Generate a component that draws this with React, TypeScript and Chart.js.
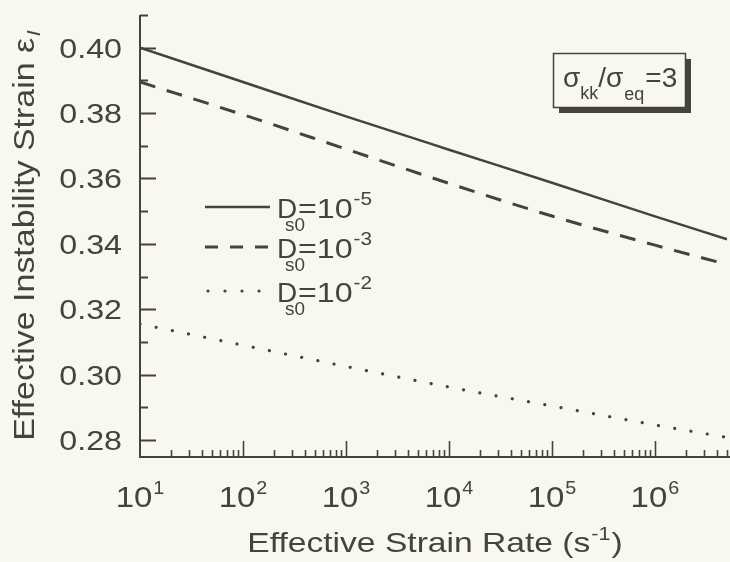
import React, { useEffect, useRef } from "react";
import { Chart, registerables } from "chart.js";

Chart.register(...registerables);

// ---- data ----
const strainRates = [10, 100, 1e3, 1e4, 1e5, 1e6, 5e6];
const strainD5 = [0.4, 0.3895, 0.379, 0.3688, 0.3587, 0.3484, 0.3414];
const strainD3 = [0.3895, 0.3795, 0.369, 0.3585, 0.3485, 0.3396, 0.3337];
const strainD2 = [0.3155, 0.309, 0.3025, 0.2962, 0.2904, 0.2846, 0.2808];
const seriesExponents = ["-5", "-3", "-2"];
const yMajorTicks = [0.28, 0.3, 0.32, 0.34, 0.36, 0.38, 0.4];
const yMinorTicks = [0.29, 0.31, 0.33, 0.35, 0.37, 0.39, 0.41];
const xDecadeExponents = [1, 2, 3, 4, 5, 6];
const xMinorMultipliers = [2, 3, 4, 5, 6, 7, 8, 9];

const X_MIN = 10;
const X_MAX = 5.35e6;
const Y_MIN = 0.2748;
const Y_MAX = 0.41;

const INK = "#44433e";
const BG = "#f9f8ee";
const FONT = '"Liberation Sans", Arial, Helvetica, sans-serif';

type Piece = { t: string; size: number; dy?: number; dx?: number; italic?: boolean };

function drawRich(
  ctx: CanvasRenderingContext2D,
  pieces: Piece[],
  x: number,
  y: number,
  sx: number,
  align: "left" | "center" | "right"
) {
  ctx.textAlign = "left";
  ctx.textBaseline = "alphabetic";
  const widths: number[] = [];
  let total = 0;
  for (const p of pieces) {
    ctx.font = `${p.italic ? "italic " : ""}${p.size}px ${FONT}`;
    const w = ctx.measureText(p.t).width * sx;
    widths.push(w);
    total += w + (p.dx || 0);
  }
  let cx = align === "left" ? x : align === "center" ? x - total / 2 : x - total;
  pieces.forEach((p, i) => {
    ctx.font = `${p.italic ? "italic " : ""}${p.size}px ${FONT}`;
    cx += p.dx || 0;
    ctx.save();
    ctx.translate(cx, y + (p.dy || 0));
    ctx.scale(sx, 1);
    ctx.fillText(p.t, 0, 0);
    ctx.restore();
    cx += widths[i];
  });
}

const decorPlugin = {
  id: "decor",
  beforeDraw(chart: any) {
    const ctx = chart.ctx as CanvasRenderingContext2D;
    ctx.save();
    ctx.fillStyle = BG;
    ctx.fillRect(0, 0, chart.width, chart.height);
    ctx.restore();
  },
  afterDraw(chart: any) {
    const ctx = chart.ctx as CanvasRenderingContext2D;
    const xs = chart.scales.x;
    const ys = chart.scales.y;
    const area = chart.chartArea;
    ctx.save();
    ctx.strokeStyle = INK;
    ctx.fillStyle = INK;

    // axes
    ctx.lineWidth = 2;
    ctx.beginPath();
    ctx.moveTo(area.left, area.top);
    ctx.lineTo(area.left, area.bottom);
    ctx.lineTo(area.right, area.bottom);
    ctx.stroke();

    // y ticks
    ctx.lineWidth = 2;
    for (const v of yMajorTicks) {
      const py = Math.round(ys.getPixelForValue(v)) + 0.5;
      ctx.beginPath();
      ctx.moveTo(area.left, py);
      ctx.lineTo(area.left + 16, py);
      ctx.stroke();
    }
    for (const v of yMinorTicks) {
      const py = Math.round(ys.getPixelForValue(v)) + 0.5;
      ctx.beginPath();
      ctx.moveTo(area.left, py);
      ctx.lineTo(area.left + 8, py);
      ctx.stroke();
    }
    // y tick labels
    for (const v of yMajorTicks) {
      const py = ys.getPixelForValue(v);
      drawRich(ctx, [{ t: v.toFixed(2), size: 28 }], 122, py + 10, 1.15, "right");
    }

    // x ticks
    ctx.lineWidth = 1.6;
    for (const e of xDecadeExponents) {
      for (const m of xMinorMultipliers) {
        const v = m * Math.pow(10, e);
        if (v > X_MAX) continue;
        const px = Math.round(xs.getPixelForValue(v)) + 0.5;
        ctx.beginPath();
        ctx.moveTo(px, area.bottom);
        ctx.lineTo(px, area.bottom - 7);
        ctx.stroke();
      }
      if (e > 1) {
        const px = Math.round(xs.getPixelForValue(Math.pow(10, e))) + 0.5;
        ctx.beginPath();
        ctx.moveTo(px, area.bottom);
        ctx.lineTo(px, area.bottom - 16);
        ctx.stroke();
      }
    }
    // x tick labels
    for (const e of xDecadeExponents) {
      const px = xs.getPixelForValue(Math.pow(10, e));
      drawRich(
        ctx,
        [
          { t: "10", size: 30 },
          { t: String(e), size: 18, dy: -13, dx: 1 },
        ],
        px,
        507,
        1.1,
        "center"
      );
    }

    // x title
    drawRich(
      ctx,
      [
        { t: "Effective Strain Rate (s", size: 28 },
        { t: "-1", size: 18, dy: -12, dx: 1 },
        { t: ")", size: 28, dx: 1 },
      ],
      (area.left + area.right) / 2,
      552,
      1.2,
      "center"
    );

    // y title
    ctx.save();
    ctx.translate(34, 236);
    ctx.rotate(-Math.PI / 2);
    drawRich(
      ctx,
      [
        { t: "Effective Instability Strain \u03b5", size: 29 },
        { t: "l", size: 18, dy: 6, dx: 2, italic: true },
      ],
      0,
      0,
      1.17,
      "center"
    );
    ctx.restore();

    // legend
    const rows = [207, 247, 291];
    const x0 = 205;
    const x1 = 270;
    rows.forEach((ry, i) => {
      ctx.beginPath();
      if (i === 0) {
        ctx.setLineDash([]);
        ctx.lineWidth = 2.5;
        ctx.lineCap = "butt";
      } else if (i === 1) {
        ctx.setLineDash([13, 12]);
        ctx.lineWidth = 3;
        ctx.lineCap = "butt";
      } else {
        ctx.setLineDash([0.01, 17]);
        ctx.lineWidth = 3.2;
        ctx.lineCap = "round";
      }
      ctx.moveTo(i === 2 ? x0 + 3 : x0, ry);
      ctx.lineTo(x1, ry);
      ctx.stroke();
      ctx.setLineDash([]);
      ctx.lineCap = "butt";
      const tx = 277;
      drawRich(ctx, [{ t: "D", size: 28 }], tx, ry + 11, 1.0, "left");
      drawRich(ctx, [{ t: "s0", size: 18 }], tx + 8, ry + 24, 1.05, "left");
      drawRich(
        ctx,
        [
          { t: "=10", size: 28 },
          { t: seriesExponents[i], size: 18, dy: -13, dx: 1 },
        ],
        tx + 21,
        ry + 11,
        1.15,
        "left"
      );
    });

    // annotation box with shadow
    const bx = 553, by = 53, bw = 132, bh = 54;
    ctx.fillStyle = INK;
    ctx.fillRect(bx + 6, by + 6, bw, bh);
    ctx.fillStyle = BG;
    ctx.fillRect(bx, by, bw, bh);
    ctx.lineWidth = 1.5;
    ctx.strokeStyle = INK;
    ctx.strokeRect(bx + 0.5, by + 0.5, bw, bh);
    ctx.fillStyle = INK;
    drawRich(
      ctx,
      [
        { t: "\u03c3", size: 28 },
        { t: "kk", size: 18, dy: 12 },
        { t: "/", size: 28 },
        { t: "\u03c3", size: 28 },
        { t: "eq", size: 18, dy: 13, dx: 1 },
        { t: "=3", size: 28, dx: 1 },
      ],
      563,
      87,
      1.0,
      "left"
    );

    ctx.restore();
  },
};

export default function App() {
  const canvasRef = useRef<HTMLCanvasElement | null>(null);

  useEffect(() => {
    document.body.style.margin = "0";
    const canvas = canvasRef.current;
    if (!canvas) return;
    const mk = (ys: number[]) => strainRates.map((x, i) => ({ x, y: ys[i] }));
    const chart = new Chart(canvas, {
      type: "line",
      data: {
        datasets: [
          {
            data: mk(strainD5),
            borderColor: INK,
            borderWidth: 2.5,
            pointRadius: 0,
            cubicInterpolationMode: "monotone",
          },
          {
            data: mk(strainD3),
            borderColor: INK,
            borderWidth: 3,
            borderDash: [16, 12],
            pointRadius: 0,
            cubicInterpolationMode: "monotone",
          },
          {
            data: mk(strainD2),
            borderColor: INK,
            borderWidth: 3.2,
            borderDash: [0.01, 16.5],
            borderCapStyle: "round",
            pointRadius: 0,
            cubicInterpolationMode: "monotone",
          },
        ],
      },
      options: {
        responsive: false,
        maintainAspectRatio: false,
        animation: false,
        events: [],
        layout: { padding: { left: 140, right: 0, top: 15, bottom: 105 } },
        plugins: {
          legend: { display: false },
          tooltip: { enabled: false },
        },
        scales: {
          x: { type: "logarithmic", min: X_MIN, max: X_MAX, display: false },
          y: { type: "linear", min: Y_MIN, max: Y_MAX, display: false },
        },
      },
      plugins: [decorPlugin],
    } as any);
    return () => chart.destroy();
  }, []);

  return (
    <div style={{ position: "absolute", left: 0, top: 0, width: 730, height: 562 }}>
      <canvas ref={canvasRef} width={730} height={562} style={{ width: 730, height: 562, display: "block" }} />
    </div>
  );
}
